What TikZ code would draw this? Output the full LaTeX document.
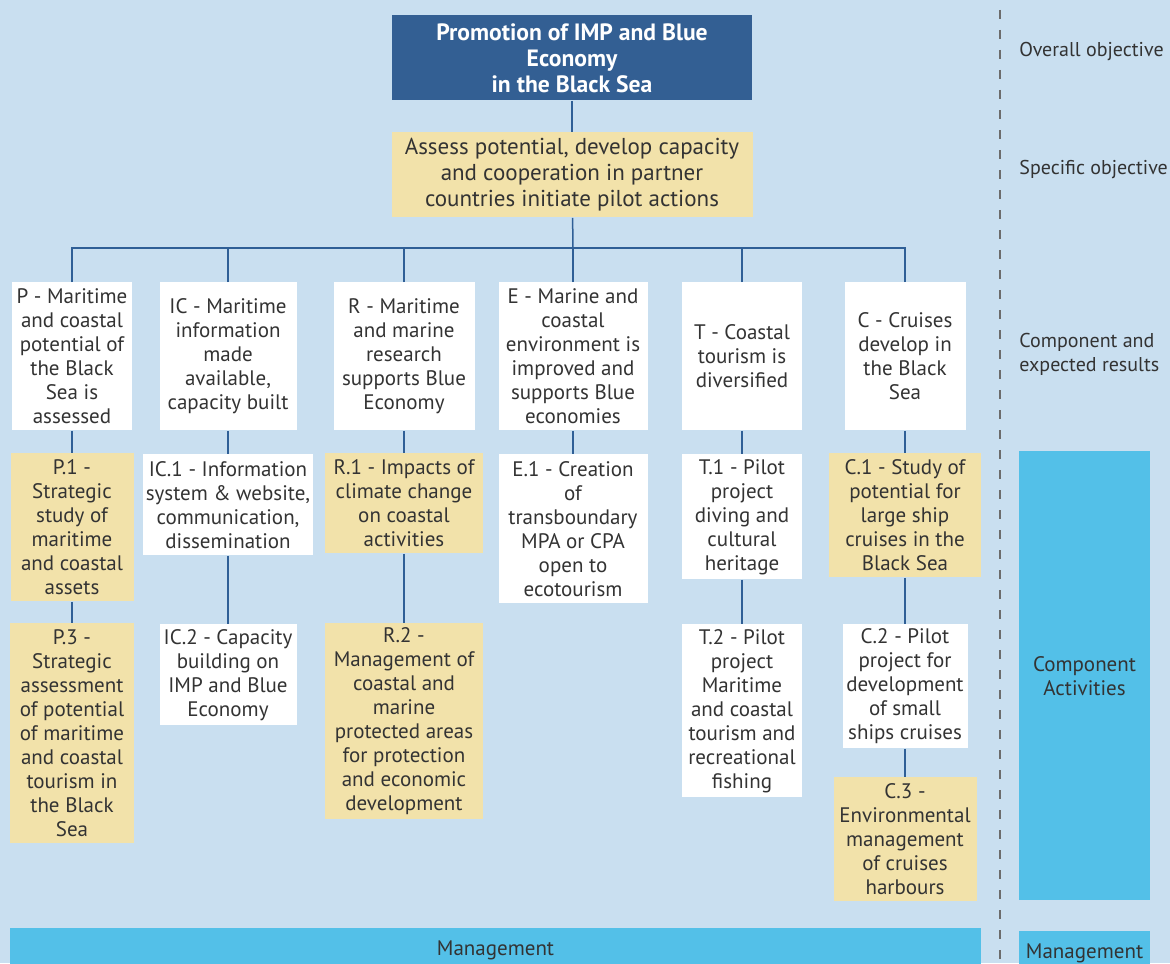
\documentclass[tikz,border=0pt]{standalone}
\usepackage{fontspec}
\setmainfont{PT Sans}
\usepackage{tikz}
\usetikzlibrary{positioning}

\definecolor{bgblue}{RGB}{201,223,240}
\definecolor{navy}{RGB}{51,95,147}
\definecolor{sand}{RGB}{242,226,170}
\definecolor{sky}{RGB}{83,192,232}
\definecolor{wire}{RGB}{47,95,150}
\definecolor{ink}{RGB}{51,51,51}

\begin{document}
\begin{tikzpicture}[
    x=0.5pt, y=-0.5pt,
    font=\fontsize{10.5}{12}\selectfont,
    box/.style={rectangle, inner sep=0pt, anchor=north, align=center,
                text=ink},
    result/.style={box, fill=white, minimum height=74pt},
    task/.style={box, fill=sand},
    plain/.style={box, fill=white},
    band/.style={box, fill=sky},
    wiring/.style={draw=wire, line width=0.75pt},
    level/.style={anchor=west, inner sep=0pt, align=left, text=ink,
                  font=\fontsize{10}{12}\selectfont},
  ]
  \useasboundingbox (0,0) rectangle (1170,963);
  \fill[bgblue] (0,0) rectangle (1170,963);

  % objectives
  \node[box, fill=navy, text=white, font=\fontsize{11.8}{13}\selectfont\bfseries,
        minimum width=180pt, minimum height=42.5pt] (goal) at (572,15)
    {Promotion of IMP and Blue\\Economy\\in the Black Sea};
  \node[task, font=\fontsize{11.5}{13}\selectfont,
        minimum width=180.5pt, minimum height=42.5pt] (aim) at (572,132)
    {Assess potential, develop capacity\\and cooperation in partner\\countries initiate pilot actions};

  % components and expected results
  \node[result, minimum width=60pt] (P) at (72,282)
    {P - Maritime\\and coastal\\potential of\\the Black\\Sea is\\assessed};
  \node[result, minimum width=68.5pt] (IC) at (228,282)
    {IC - Maritime\\information\\made\\available,\\capacity built};
  \node[result, minimum width=70.5pt] (R) at (404,282)
    {R - Maritime\\and marine\\research\\supports Blue\\Economy};
  \node[result, minimum width=74.5pt] (E) at (573,282)
    {E - Marine and\\coastal\\environment is\\improved and\\supports Blue\\economies};
  \node[result, minimum width=60pt] (T) at (742,282)
    {T - Coastal\\tourism is\\diversified};
  \node[result, minimum width=60.5pt] (C) at (905,282)
    {C - Cruises\\develop in\\the Black\\Sea};

  \coordinate (bus) at (573,248);
  \draw[wiring] (goal) -- (aim);
  \draw[wiring] (aim) -- (bus);
  \foreach \c in {P,IC,R,E,T,C}
    \draw[wiring] (\c.north) |- (bus);

  % activities, first row
  \node[task, minimum width=61.5pt, minimum height=74pt] (P1) at (72,453)
    {P.1 -\\Strategic\\study of\\maritime\\and coastal\\assets};
  \node[plain, minimum width=85pt, minimum height=50.5pt] (IC1) at (228,454)
    {IC.1 - Information\\system \& website,\\communication,\\dissemination};
  \node[task, minimum width=79pt, minimum height=50pt] (R1) at (404,453)
    {R.1 - Impacts of\\climate change\\on coastal\\activities};
  \node[plain, minimum width=74.5pt, minimum height=74.5pt] (E1) at (573,454)
    {E.1 - Creation\\of\\transboundary\\MPA or CPA\\open to\\ecotourism};
  \node[plain, minimum width=60pt, minimum height=62.5pt] (T1) at (742,454)
    {T.1 - Pilot\\project\\diving and\\cultural\\heritage};
  \node[task, minimum width=76pt, minimum height=62pt] (C1) at (905,453)
    {C.1 - Study of\\potential for\\large ship\\cruises in the\\Black Sea};

  % activities, second row
  \node[task, minimum width=62pt, minimum height=110pt] (P3) at (72,623)
    {P.3 -\\Strategic\\assessment\\of potential\\of maritime\\and coastal\\tourism in\\the Black\\Sea};
  \node[plain, minimum width=68.5pt, minimum height=50.5pt] (IC2) at (228,624)
    {IC.2 - Capacity\\building on\\IMP and Blue\\Economy};
  \node[task, minimum width=79pt, minimum height=98pt] (R2) at (404,623)
    {R.2 -\\Management of\\coastal and\\marine\\protected areas\\for protection\\and economic\\development};
  \node[plain, minimum width=60pt, minimum height=86.5pt] (T2) at (742,624)
    {T.2 - Pilot\\project\\Maritime\\and coastal\\tourism and\\recreational\\fishing};
  \node[plain, minimum width=62.5pt, minimum height=62pt] (C2) at (905,624)
    {C.2 - Pilot\\project for\\development\\of small\\ships cruises};
  \node[task, minimum width=71.5pt, minimum height=62pt] (C3) at (905,777)
    {C.3 -\\Environmental\\management\\of cruises\\harbours};

  \foreach \a/\b in {P/P1,P1/P3,IC/IC1,IC1/IC2,R/R1,R1/R2,E/E1,
                     T/T1,T1/T2,C/C1,C1/C2,C2/C3}
    \draw[wiring] (\a) -- (\b);

  % management bar
  \node[band, minimum width=485.5pt, minimum height=22pt] (mgmt) at (495.5,928)
    {Management};

  % level labels on the right
  \draw[gray!85!black, line width=1pt, dash pattern=on 4.5pt off 5.5pt]
    (1000,10) -- (1000,963);
  \node[level] (lvl1) at (1019,52) {Overall objective};
  \node[level] (lvl2) at (1019,169) {Specific objective};
  \node[level] (lvl3) at (1019,354) {Component and\\expected results};
  \node[band, minimum width=65.5pt, minimum height=224.5pt] (lvl4) at (1084.5,451)
    {Component\\Activities};
  \node[band, minimum width=65.5pt, minimum height=22pt] (lvl5) at (1084.5,931)
    {Management};
\end{tikzpicture}
\end{document}
